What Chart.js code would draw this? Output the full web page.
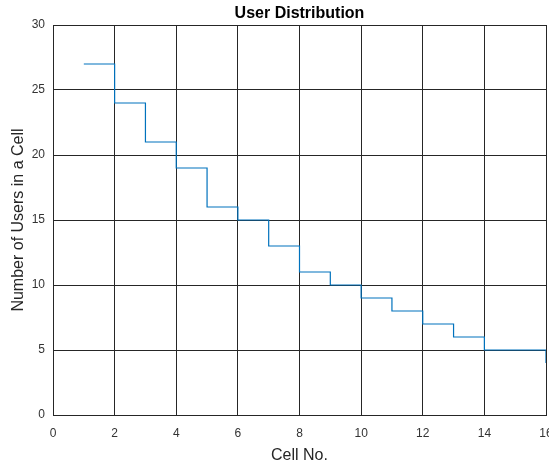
<!DOCTYPE html>
<html>
<head>
<meta charset="utf-8">
<script src="https://cdn.jsdelivr.net/npm/chart.js@4/dist/chart.umd.min.js"></script>
<style>
  html, body { margin: 0; padding: 0; background: #fff; overflow: hidden; }
  #wrap { width: 560px; height: 465px; }
</style>
</head>
<body>
<div id="wrap"><canvas id="myChart" width="560" height="465"></canvas></div>
<script>
// stairs data
const cellNo = [1, 2, 3, 4, 5, 6, 7, 8, 9, 10, 11, 12, 13, 14, 15, 16];
const userCount = [27, 24, 21, 19, 16, 15, 13, 11, 10, 9, 8, 7, 6, 5, 5, 4];
const xTicks = [0, 2, 4, 6, 8, 10, 12, 14, 16];
const yTicks = [0, 5, 10, 15, 20, 25, 30];

const fontFamily = '"Liberation Sans", Arial, sans-serif';
const axisColor = '#262626';

document.addEventListener('DOMContentLoaded', function () {
    const ctx = document.getElementById('myChart').getContext('2d');
    new Chart(ctx, {
        type: 'line',
        data: {
            datasets: [{
                label: 'Users',
                data: cellNo.map((c, i) => ({ x: c, y: userCount[i] })),
                borderColor: 'rgb(0, 114, 189)',
                borderWidth: 1.2,
                pointRadius: 0,
                stepped: 'before',
                fill: false
            }]
        },
        options: {
            responsive: false,
            animation: false,
            layout: { padding: { left: 0, right: 14, top: 0, bottom: 0 } },
            plugins: {
                legend: { display: false },
                tooltip: { enabled: false },
                title: { display: false }
            },
            scales: {
                x: {
                    type: 'linear',
                    min: 0,
                    max: 16,
                    afterBuildTicks: s => { s.ticks = xTicks.map(v => ({ value: v })); },
                    afterFit: s => { s.height = 50; s.paddingLeft = 0; s.paddingRight = 0; },
                    grid: { color: axisColor, lineWidth: 1, drawTicks: false },
                    border: { color: axisColor, width: 1 },
                    ticks: { color: '#333', font: { family: fontFamily, size: 12 }, padding: 11, maxRotation: 0 },
                    title: {
                        display: true, text: 'Cell No.', color: axisColor,
                        font: { family: fontFamily, size: 16 }, padding: { top: 3, bottom: 0 }
                    }
                },
                // top axis only carries the chart title, centred over the plot like MATLAB
                top: {
                    type: 'linear',
                    position: 'top',
                    min: 0,
                    max: 16,
                    afterFit: s => { s.height = 25; s.paddingLeft = 0; s.paddingRight = 0; },
                    grid: { display: false, drawTicks: false },
                    border: { display: false },
                    ticks: { display: false },
                    title: {
                        display: true, text: 'User Distribution', color: '#000',
                        font: { family: fontFamily, size: 16, weight: 'bold' }, padding: { top: 4, bottom: 2 }
                    }
                },
                y: {
                    type: 'linear',
                    min: 0,
                    max: 30,
                    afterBuildTicks: s => { s.ticks = yTicks.map(v => ({ value: v })); },
                    afterFit: s => { s.width = 53; s.paddingTop = 0; s.paddingBottom = 0; },
                    grid: { color: axisColor, lineWidth: 1, drawTicks: false },
                    border: { color: axisColor, width: 1 },
                    ticks: { color: '#333', font: { family: fontFamily, size: 12 }, padding: 8 },
                    title: {
                        display: true, text: 'Number of Users in a Cell', color: axisColor,
                        font: { family: fontFamily, size: 16 }, padding: { top: 9, bottom: 0 }
                    }
                }
            }
        }
    });
});
</script>
</body>
</html>
